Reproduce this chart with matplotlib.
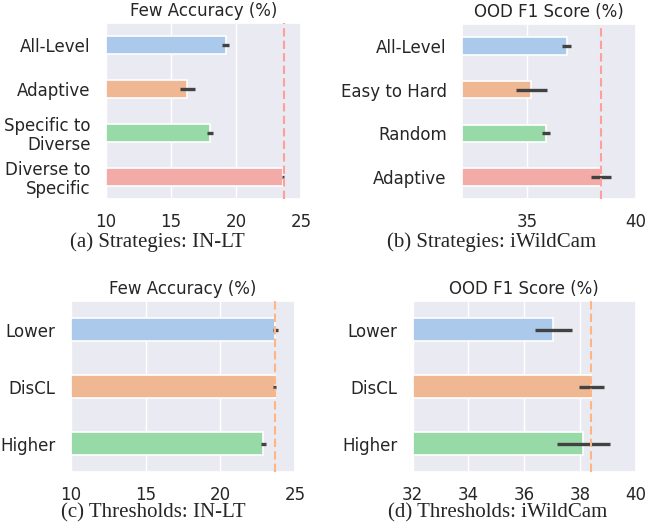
import numpy as np
import seaborn as sns
from matplotlib import pyplot as plt

sns.set_theme(style="darkgrid")
plt.rcParams['font.family'] = ['DejaVu Sans']

# (a) strategies on IN-LT
a_labels = ["All-Level", "Adaptive", "Specific to\nDiverse", "Diverse to\nSpecific"]
a_vals = [19.2, 16.26, 18.0, 23.64]
a_errs = [0.25, 0.6, 0.25, 0.08]
a_ref = 23.67

# (b) strategies on iWildCam
b_labels = ["All-Level", "Easy to Hard", "Random", "Adaptive"]
b_vals = [36.82, 35.19, 35.87, 38.4]
b_errs = [0.22, 0.73, 0.17, 0.45]
b_ref = 38.4

# (c) thresholds on IN-LT
c_labels = ["Lower", "DisCL", "Higher"]
c_vals = [23.68, 23.63, 22.87]
c_errs = [0.17, 0.1, 0.17]
c_ref = 23.66

# (d) thresholds on iWildCam
d_labels = ["Lower", "DisCL", "Higher"]
d_vals = [37.05, 38.41, 38.11]
d_errs = [0.65, 0.45, 0.95]
d_ref = 38.4

pal = sns.color_palette("pastel")
bar_cols = [sns.desaturate(c, 0.75) for c in pal]

fig = plt.figure(figsize=(6.5, 5.31), dpi=100)

def panel(rect, labels, vals, errs, ref, refcol, xlim, xticks, title, caption, capx, capy):
    ax = fig.add_axes(rect)
    pos = np.arange(len(labels))
    ax.barh(pos, vals, height=0.4, color=bar_cols[:len(labels)], edgecolor='white', linewidth=1.2, zorder=2)
    ax.errorbar(vals, pos, xerr=errs, fmt='none', ecolor='#424242', elinewidth=2.4, capsize=0, zorder=3)
    ax.axvline(ref, color=refcol, linestyle=(0, (4, 2)), linewidth=1.5, zorder=4)
    ax.set_xlim(xlim)
    ax.set_xticks(xticks)
    ax.set_yticks(pos)
    ax.set_yticklabels(labels, fontsize=12, linespacing=1.05)
    ax.set_ylim(len(labels) - 0.5, -0.5)
    ax.tick_params(axis='x', labelsize=12, pad=4)
    ax.tick_params(axis='y', pad=5)
    ax.grid(axis='y', visible=False)
    ax.set_title(title, fontsize=12, pad=5)
    fig.text(capx, capy, caption, ha='center', va='center', fontsize=15, family='Liberation Serif')
    return ax

panel([0.163, 0.625, 0.300, 0.332], a_labels, a_vals, a_errs, a_ref, pal[3],
      (10, 25), [10, 15, 20, 25], "Few Accuracy (%)", "(a) Strategies: IN-LT", 0.242, 1 - 242 / 531)
panel([0.711, 0.625, 0.267, 0.330], b_labels, b_vals, b_errs, b_ref, pal[3],
      (32, 40), [35, 40], "OOD F1 Score (%)", "(b) Strategies: iWildCam", 0.757, 1 - 242 / 531)
panel([0.109, 0.111, 0.345, 0.322], c_labels, c_vals, c_errs, c_ref, pal[1],
      (10, 25), [10, 15, 20, 25], "Few Accuracy (%)", "(c) Thresholds: IN-LT", 0.236, 1 - 513 / 531)
panel([0.635, 0.111, 0.343, 0.322], d_labels, d_vals, d_errs, d_ref, pal[1],
      (32, 40), [32, 34, 36, 38, 40], "OOD F1 Score (%)", "(d) Thresholds: iWildCam", 0.765, 1 - 513 / 531)

plt.savefig("out.png", dpi=100)
